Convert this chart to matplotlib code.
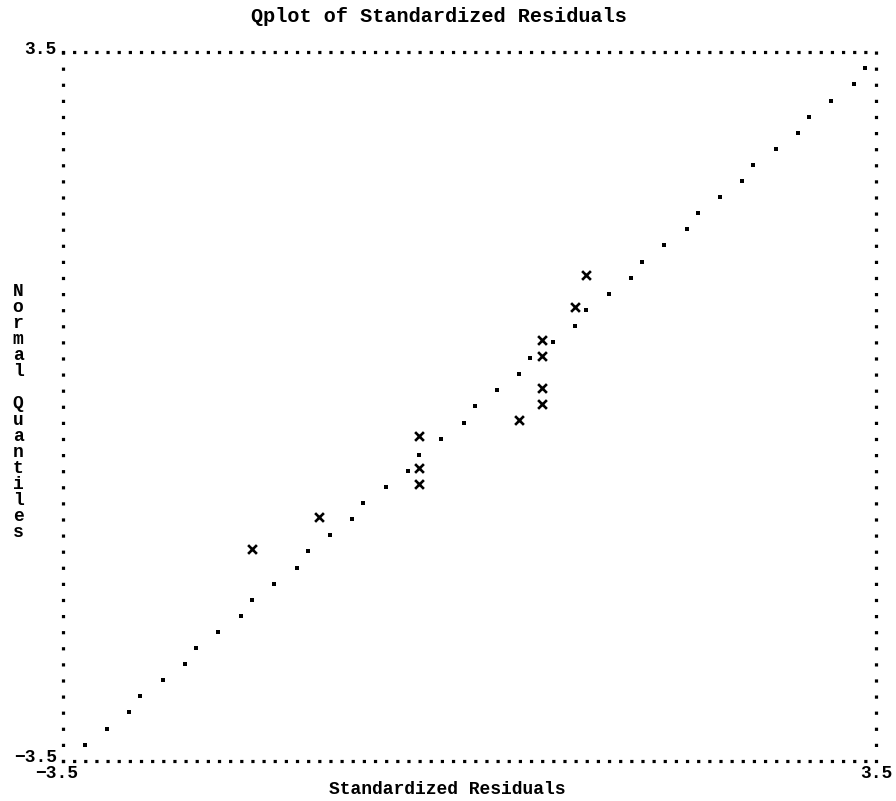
"""
Qplot of Standardized Residuals (line-printer style)
"""
import matplotlib
matplotlib.use("Agg")
import matplotlib.pyplot as plt
import matplotlib.transforms as mtransforms
from matplotlib.font_manager import FontProperties

# Reference line dots
ref_x = [3.404, 3.308, 3.116, 2.925, 2.829, 2.637, 2.445, 2.349, 2.158, 1.966,
         1.870, 1.678, 1.486, 1.390, 1.199, 1.007, 0.911, 0.719, 0.527, 0.432,
         0.240, 0.048, -0.048, -0.240, -0.432, -0.527, -0.719, -0.911, -1.007, -1.199,
         -1.390, -1.486, -1.678, -1.870, -1.966, -2.158, -2.349, -2.445, -2.637, -2.829,
         -2.925, -3.116, -3.308]
ref_y = [3.341, 3.182, 3.023, 2.864, 2.705, 2.545, 2.386, 2.227, 2.068, 1.909,
         1.750, 1.591, 1.432, 1.273, 1.114, 0.955, 0.795, 0.636, 0.477, 0.318,
         0.159, 0.000, -0.159, -0.318, -0.477, -0.636, -0.795, -0.955, -1.114, -1.273,
         -1.432, -1.591, -1.750, -1.909, -2.068, -2.227, -2.386, -2.545, -2.705, -2.864,
         -3.023, -3.182, -3.341]

# Observations: standardized residual vs normal quantile
resid = [-1.870, -1.295, -0.432, -0.432, -0.432, 0.432, 0.623, 0.623, 0.623, 0.623, 0.911, 1.007]
quant = [-1.432, -1.114, -0.795, -0.636, -0.318, -0.159, 0.000, 0.159, 0.477, 0.636, 0.955, 1.273]

x_ticks = [-3.5, 3.5]
x_tick_labels = ['\u22123.5', '3.5']
y_ticks = [-3.5, 3.5]
y_tick_labels = ['\u22123.5', '3.5']

plt.rcParams['lines.scale_dashes'] = False
font = FontProperties(family='Liberation Mono', weight='bold', size=13)
title_font = FontProperties(family='Liberation Mono', weight='bold', size=14.5)

W, H = 896, 801
fig = plt.figure(figsize=(W / 100, H / 100), dpi=100)
left, right, top, bottom = 62.5, 876.0, 52.3, 760.7
ax = fig.add_axes([left / W, 1 - bottom / H, (right - left) / W, (bottom - top) / H])
ax.set_xlim(-3.5, 3.5)
ax.set_ylim(-3.5, 3.5)

# dotted frame like a character grid: 73 columns across, 44 rows down
dot = 2.3  # points
w_pt = (right - left) * 0.72
h_pt = (bottom - top) * 0.72
for side, n, length in (('top', 73, w_pt), ('bottom', 73, w_pt), ('left', 44, h_pt), ('right', 44, h_pt)):
    sp = ax.spines[side]
    sp.set_linewidth(dot)
    sp.set_capstyle('projecting')
    sp.set_linestyle((0, (0.01, length / n - 0.01)))
    sp.set_color('black')

# reference line and observations
ax.plot(ref_x, ref_y, linestyle='none', marker='s', markersize=2.3,
        markeredgewidth=0, color='black', clip_on=False)
up = mtransforms.ScaledTranslation(0, 2.5 / 100, fig.dpi_scale_trans)
ax.scatter(resid, quant, marker='x', s=40, linewidths=1.9, color='black',
           transform=ax.transData + up, clip_on=False, zorder=3)

# ticks
ax.tick_params(axis='both', length=0)
ax.tick_params(axis='x', pad=12.7)
ax.tick_params(axis='y', pad=4)
ax.set_xticks(x_ticks, labels=x_tick_labels)
ax.set_yticks(y_ticks, labels=y_tick_labels)
for lab in ax.get_xticklabels():
    lab.set_fontproperties(font)
    lab.set_va('baseline')
for lab in ax.get_yticklabels():
    lab.set_fontproperties(font)
    lab.set_va('baseline')
    lab.set_transform(lab.get_transform() +
                      mtransforms.ScaledTranslation(0, -1.5 / 100, fig.dpi_scale_trans))
xt0 = ax.xaxis.get_major_ticks()[0].label1
xt0.set_transform(xt0.get_transform() +
                  mtransforms.ScaledTranslation(-5.5 / 100, 0, fig.dpi_scale_trans))

# axis labels
ax.set_xlabel('Standardized Residuals', fontproperties=font, va='baseline')
ax.xaxis.set_label_coords((447.5 - left) / (right - left), -(794.4 - bottom) / (bottom - top))

renderer = fig.canvas.get_renderer()
_, lp_h, lp_d = renderer.get_text_width_height_descent('lp', font, ismath=False)
ls = (16.08 - lp_d) / (lp_h - lp_d)
ax.set_ylabel('\n'.join('Normal Quantiles'), fontproperties=font, rotation=0,
              ha='center', va='center', linespacing=ls)
ax.yaxis.set_label_coords((18 - left) / (right - left), (bottom - 412) / (bottom - top))

fig.suptitle('Qplot of Standardized Residuals', x=439 / W, y=1 - 21.6 / H,
             va='baseline', fontproperties=title_font)

plt.savefig('out.png', dpi=100)
